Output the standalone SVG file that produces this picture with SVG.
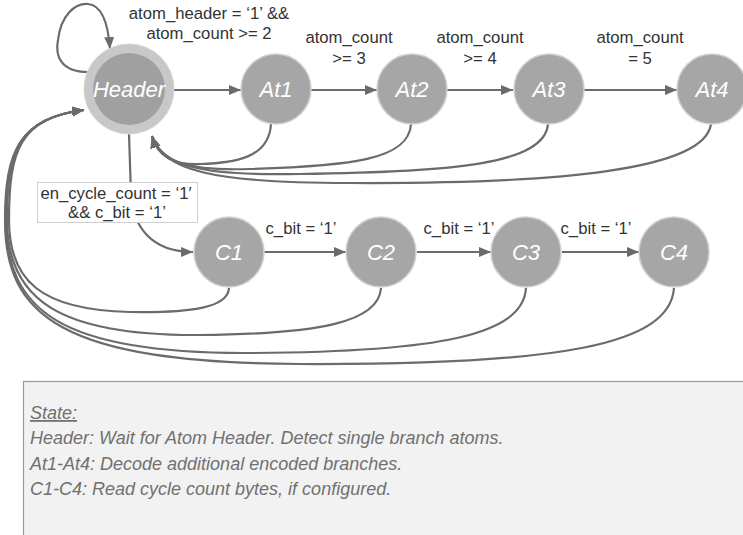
<svg xmlns="http://www.w3.org/2000/svg" width="743" height="535" viewBox="0 0 743 535">
<defs>
<marker id="ah" markerUnits="userSpaceOnUse" markerWidth="13" markerHeight="11" refX="12" refY="5" orient="auto">
<path d="M0,0 L12,5 L0,10 z" fill="#6b6b6b"/>
</marker>
<style>
.edge{fill:none;stroke:#6b6b6b;stroke-width:2.2;marker-end:url(#ah)}
.node{fill:#a6a6a6;stroke:#d2d2d2;stroke-width:1.5}
.nl{font-family:"Liberation Sans",Arial,sans-serif;font-style:italic;font-size:22px;fill:#ffffff;text-anchor:middle}
.el{font-family:"Liberation Sans",Arial,sans-serif;font-size:16.7px;fill:#333333;text-anchor:middle}
.desc{font-family:"Liberation Sans",Arial,sans-serif;font-style:italic;font-size:18px;fill:#707070}
</style>
</defs>
<rect width="743" height="535" fill="#ffffff"/>

<g id="connectors">
<path class="edge" d="M88,72 C60,72 55,55 58,40 C61,15 75,3 88,4 C101,5 108,22 110,49"/>
<path class="edge" d="M174,90 L241,90"/>
<path class="edge" d="M311,90 L377,90"/>
<path class="edge" d="M447,90 L513,90"/>
<path class="edge" d="M584,90 L677,90"/>
<path class="edge" d="M271,124 C269,158 235,163 200,164 C175,165 158,158 152,136"/>
<path class="edge" d="M411,124 C409,160 350,166 250,169 C190,171 160,163 152,136"/>
<path class="edge" d="M548,124 C545,165 450,172 300,174 C200,176 162,166 152,136"/>
<path class="edge" d="M711,124 C705,170 560,184 350,183 C210,183 163,170 152,136"/>
<path class="edge" d="M129,134 L131,195 C133,225 150,252 193,252"/>
<path class="edge" d="M264,252 L346,252"/>
<path class="edge" d="M417,252 L491,252"/>
<path class="edge" d="M562,252 L639,252"/>
<path class="edge" d="M229,288 C228,308 190,313 130,312 C40,310 9,280 9,220 C9,150 20,118 84,110"/>
<path class="edge" d="M381,288 C379,322 320,334 200,335 C60,336 7,300 7,220 C7,150 20,118 84,110"/>
<path class="edge" d="M526,288 C523,335 440,352 250,353 C60,354 6,310 6,220 C6,150 20,118 84,110"/>
<path class="edge" d="M674,288 C670,345 560,365 300,364 C60,363 5,315 5,220 C5,150 20,118 84,110"/>
</g>

<g id="label-header-at1">
<text class="el" x="209" y="19">atom_header = ‘1’ &amp;&amp;</text>
<text class="el" x="209" y="39">atom_count &gt;= 2</text>
</g>
<g id="label-at1-at2">
<text class="el" x="349" y="43">atom_count</text>
<text class="el" x="349" y="64">&gt;= 3</text>
</g>
<g id="label-at2-at3">
<text class="el" x="480" y="43">atom_count</text>
<text class="el" x="480" y="64">&gt;= 4</text>
</g>
<g id="label-at3-at4">
<text class="el" x="640" y="43">atom_count</text>
<text class="el" x="640" y="64">= 5</text>
</g>
<g id="label-header-c1">
<rect x="37.5" y="182.5" width="160" height="40" fill="#ffffff" stroke="#cfcfcf" stroke-width="1"/>
<text class="el" x="116" y="199">en_cycle_count = ‘1′</text>
<text class="el" x="117" y="218">&amp;&amp; c_bit = ‘1’</text>
</g>
<g id="label-c1-c2"><text class="el" x="301" y="234">c_bit = ‘1’</text></g>
<g id="label-c2-c3"><text class="el" x="459" y="234">c_bit = ‘1’</text></g>
<g id="label-c3-c4"><text class="el" x="596" y="234">c_bit = ‘1’</text></g>

<g id="Header">
<circle cx="129" cy="89" r="45" fill="#c8c8c8" stroke="#d6d6d6" stroke-width="1"/>
<circle cx="129" cy="89" r="36" fill="#a0a0a0"/>
<text class="nl" x="129" y="97">Header</text>
</g>
<g id="At1"><circle class="node" cx="276" cy="89" r="35"/><text class="nl" x="276" y="97">At1</text></g>
<g id="At2"><circle class="node" cx="412" cy="89" r="35"/><text class="nl" x="412" y="97">At2</text></g>
<g id="At3"><circle class="node" cx="549" cy="89" r="35"/><text class="nl" x="549" y="97">At3</text></g>
<g id="At4"><circle class="node" cx="712" cy="89" r="35"/><text class="nl" x="712" y="97">At4</text></g>
<g id="C1"><circle class="node" cx="229" cy="252" r="35"/><text class="nl" x="229" y="260">C1</text></g>
<g id="C2"><circle class="node" cx="381" cy="252" r="35"/><text class="nl" x="381" y="260">C2</text></g>
<g id="C3"><circle class="node" cx="526" cy="252" r="35"/><text class="nl" x="526" y="260">C3</text></g>
<g id="C4"><circle class="node" cx="674" cy="252" r="35"/><text class="nl" x="674" y="260">C4</text></g>

<g id="legend">
<rect x="23.5" y="381.5" width="730" height="170" fill="#f2f2f2" stroke="#9a9a9a" stroke-width="1.2"/>
<text class="desc" x="30" y="419" text-decoration="underline">State:</text>
<text class="desc" x="30" y="444">Header: Wait for Atom Header. Detect single branch atoms.</text>
<text class="desc" x="30" y="470">At1-At4: Decode additional encoded branches.</text>
<text class="desc" x="30" y="495">C1-C4: Read cycle count bytes, if configured.</text>
</g>
</svg>
